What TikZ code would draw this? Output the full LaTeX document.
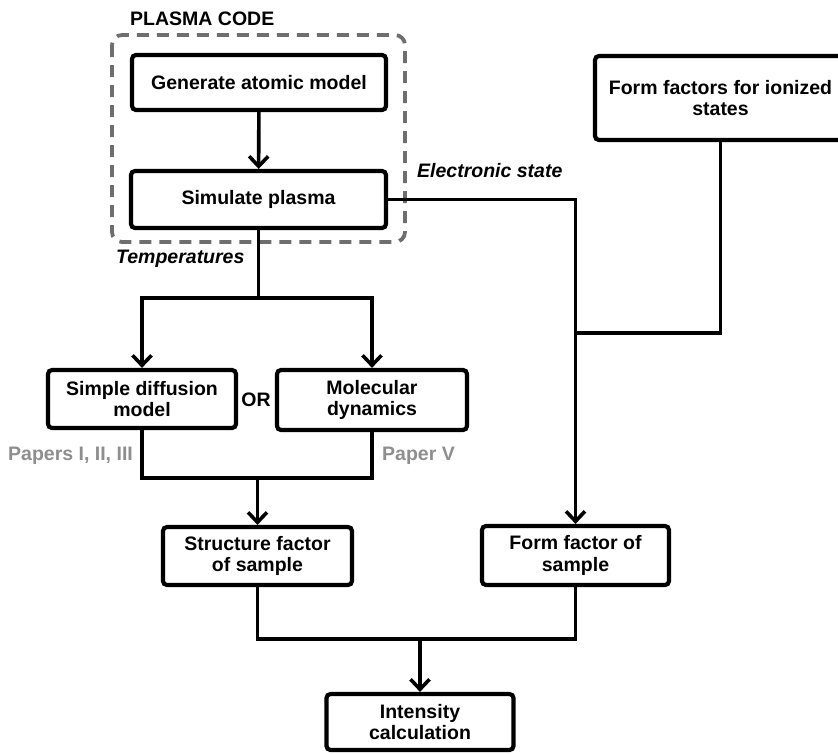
\documentclass[tikz,border=0pt]{standalone}
\usepackage{fontspec}
\setmainfont{Liberation Sans}
\usepackage{xcolor}
\usetikzlibrary{arrows.meta, positioning, calc}
\definecolor{plasmagray}{HTML}{6E6E6E}
\definecolor{papergray}{HTML}{8E8E8E}

\begin{document}
\begin{tikzpicture}[x=1pt, y=-1pt, font=\fontsize{19.5}{21.5}\selectfont\bfseries,
  b/.style={draw, line width=4.2pt, rounded corners=4pt, align=center, inner sep=2pt, fill=white},
  ln/.style={line width=3.6pt},
  fl/.style={ln, -{Straight Barb[length=10pt, width=19pt]}},
  lbl/.style={anchor=base west, inner sep=0pt},
  pap/.style={lbl, text=papergray}]
  \useasboundingbox (0,0) rectangle (838,753);
  % plasma code
  \draw[plasmagray, line width=3.8pt, rounded corners=10pt, dash pattern=on 12pt off 8pt] (112,35) rectangle (405,242);
  \node[lbl] (code) at (130,25) {PLASMA CODE};
  \node[b, minimum width=254pt, minimum height=55pt] (gen) at (259,82.5) {Generate atomic model};
  \node[b, minimum width=255pt, minimum height=57pt] (sim) at (258.5,199.5) {Simulate plasma};
  % other boxes
  \node[b, minimum width=251pt, minimum height=84pt] (ion) at (720.5,98) {Form factors for ionized\\states};
  \node[b, minimum width=188pt, minimum height=58pt] (diff) at (142,399) {Simple diffusion\\model};
  \node[b, minimum width=190pt, minimum height=60pt] (md) at (372,400) {Molecular\\dynamics};
  \node[b, minimum width=189pt, minimum height=58pt] (struct) at (257.5,556) {Structure factor\\of sample};
  \node[b, minimum width=187pt, minimum height=59pt] (ff) at (575.5,555.5) {Form factor of\\sample};
  \node[b, minimum width=187pt, minimum height=56pt] (int) at (420,722) {Intensity\\calculation};
  % labels
  \node[lbl, font=\fontsize{19.5}{21.5}\selectfont\bfseries\itshape] (temp) at (116,263) {Temperatures};
  \node[lbl, font=\fontsize{19.5}{21.5}\selectfont\bfseries\itshape] (elec) at (417,177) {Electronic state};
  \node (or) at (256,400) {OR};
  \node[pap] (p123) at (8,460) {Papers I, II, III};
  \node[pap] (p5) at (382,460) {Paper V};
  % junctions
  \coordinate (split) at (258.5,298);
  \coordinate (join) at (257.5,478);
  \coordinate (ffjoin) at (575.5,333);
  \coordinate (bot) at (420,639);
  % connectors
  \draw[fl] (gen) -- (sim);
  \draw[ln] (sim) -- (split);
  \draw[fl] (split) -| (diff);
  \draw[fl] (split) -| (md);
  \draw[ln] (diff) |- (join) -| (md);
  \draw[fl] (join) -- (struct);
  \draw[fl] (sim) -| (ff);
  \draw[ln] (ion) |- (ffjoin);
  \draw[ln] (struct) |- (bot) -| (ff);
  \draw[fl] (bot) -- (int);
\end{tikzpicture}
\end{document}
